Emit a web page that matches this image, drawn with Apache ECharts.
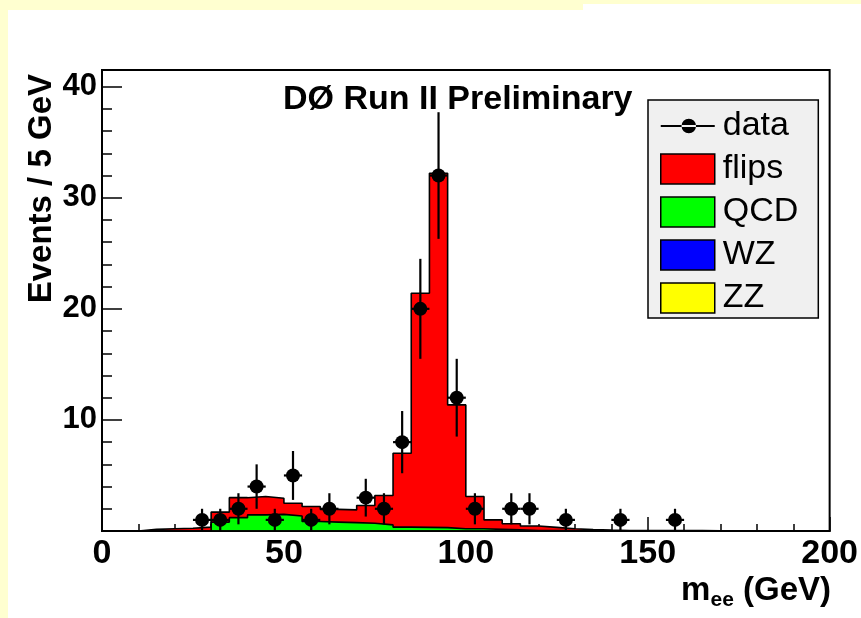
<!DOCTYPE html>
<html><head><meta charset="utf-8">
<script src="https://cdn.jsdelivr.net/npm/echarts@6/dist/echarts.min.js"></script>
<style>html,body{margin:0;padding:0;background:#FFFFD0;}#c{width:861px;height:618px;}</style>
</head><body><div id="c"></div>
<script>
// Bin lower edges (GeV), bin width 5 GeV
const binLow = [0,5,10,15,20,25,30,35,40,45,50,55,60,65,70,75,80,85,90,95,100,105,110,115,120,125,130,135,140,145,150,155,160,165,170,175,180,185,190,195];
const binWidth = 5;
// Background contributions (events / 5 GeV)
const flips = [0,0,0.15,0.2,0.25,0.35,0.9,1.8,1.65,1.45,1.15,1.35,1.15,1.15,1.6,2.65,6.65,21.07,31.9,11.15,2.9,0.85,0.55,0.4,0.28,0.17,0.1,0.08,0.05,0.05,0.04,0.03,0.03,0.02,0.02,0.02,0.01,0.01,0.01,0.01];
const qcd   = [0,0,0,0,0,0,0.8,1.2,1.45,1.5,1.35,0.85,0.8,0.75,0.7,0.55,0.35,0.33,0.3,0.2,0.2,0.15,0.1,0.05,0.05,0.03,0.02,0,0,0,0,0,0,0,0,0,0,0,0,0];
const wz    = [0,0,0,0,0,0,0,0,0,0,0,0,0,0,0,0,0,0,0,0,0,0,0,0,0,0,0,0,0,0,0,0,0,0,0,0,0,0,0,0];
const zz    = [0,0,0,0,0,0,0,0,0,0,0,0,0,0,0,0,0,0,0,0,0,0,0,0,0,0,0,0,0,0,0,0,0,0,0,0,0,0,0,0];
// Data points
const dataX   = [27.5,32.5,37.5,42.5,47.5,52.5,57.5,62.5,72.5,77.5,82.5,87.5,92.5,97.5,102.5,112.5,117.5,127.5,142.5,157.5];
const dataY   = [1,1,2,4,1,5,1,2,3,2,8,20,32,12,2,2,2,1,1,1];
const dataErr = [1,1,1.4,2,1,2.2,1,1.4,1.7,1.4,2.8,4.5,5.7,3.5,1.4,1.4,1.4,1,1,1];
// Axis ticks
const xTicks = [0,50,100,150,200];
const yTicks = [0,10,20,30,40];

const FONT = 'Liberation Sans';
// cumulative stack (ZZ bottom, WZ, QCD, flips on top)
const cZZ = zz.slice();
const cWZ = cZZ.map((v,i)=>v+wz[i]);
const cQCD = cWZ.map((v,i)=>v+qcd[i]);
const cAll = cQCD.map((v,i)=>v+flips[i]);
function steps(vals){
  const pts = binLow.map((x,i)=>[x, vals[i]]);
  pts.push([binLow[binLow.length-1]+binWidth, vals[vals.length-1]]);
  return pts;
}
function histSeries(name, vals, color){
  return {
    name, type:'line', step:'end', data: steps(vals), symbol:'none', showSymbol:false,
    xAxisIndex:0, yAxisIndex:0,
    lineStyle:{color:'#000', width:1.6},
    itemStyle:{color:color, borderColor:'#000', borderWidth:1.5},
    areaStyle:{color:color, opacity:1},
    emphasis:{disabled:true}, animation:false, clip:true
  };
}
const chart = echarts.init(document.getElementById('c'), null, {renderer:'canvas'});
chart.setOption({
  animation:false,
  backgroundColor:'#FFFFD0',
  graphic:[
    {type:'rect', z:-100, shape:{x:8, y:10, width:853, height:608}, style:{fill:'#fff'}},
    {type:'rect', z:-100, shape:{x:583, y:4, width:278, height:10}, style:{fill:'#fff'}},
    {type:'text', z:100, x:42, y:74, rotation:Math.PI/2,
     style:{text:'Events / 5 GeV', fontFamily:FONT, fontWeight:'bold', fontSize:33, fill:'#000', align:'right', verticalAlign:'middle'}},
    {type:'text', z:100, x:831, y:591,
     style:{text:'{a|m}{b|ee}{a| (GeV)}', align:'right', verticalAlign:'middle', fill:'#000',
       rich:{a:{fontFamily:FONT, fontWeight:'bold', fontSize:33, lineHeight:40, verticalAlign:'middle'},
             b:{fontFamily:FONT, fontWeight:'bold', fontSize:21, lineHeight:40, verticalAlign:'bottom'}}}}
  ],
  title:{text:'DØ Run II Preliminary', left:283, top:83, padding:0,
    textStyle:{fontFamily:FONT, fontWeight:'bold', fontSize:34, color:'#000'}},
  legend:{
    orient:'vertical', left:648, top:100, padding:[9,20,3,12], itemGap:9,
    itemWidth:54, itemHeight:30, backgroundColor:'#f0f0f0', borderColor:'#000', borderWidth:1.5,
    textStyle:{fontFamily:FONT, fontSize:34, color:'#000', padding:[0,0,0,3]},
    selectedMode:false,
    data:[
      {name:'data', icon:'path://M0,14H52V16H0Z M20,15A7,7,0,1,0,34,15A7,7,0,1,0,20,15Z', itemStyle:{color:'#000', borderWidth:0}},
      {name:'flips', icon:'rect', itemStyle:{color:'#ff0000', borderColor:'#000', borderWidth:1.5}},
      {name:'QCD', icon:'rect', itemStyle:{color:'#00ff00', borderColor:'#000', borderWidth:1.5}},
      {name:'WZ', icon:'rect', itemStyle:{color:'#0000ff', borderColor:'#000', borderWidth:1.5}},
      {name:'ZZ', icon:'rect', itemStyle:{color:'#ffff00', borderColor:'#000', borderWidth:1.5}}
    ]
  },
  grid:[
    {left:102, right:29, top:70, bottom:87, show:true, borderColor:'#000', borderWidth:2, backgroundColor:'transparent'},
    {left:102, right:29, top:70, bottom:87, show:false}
  ],
  xAxis:[
    {type:'value', gridIndex:0, min:0, max:200, interval:50,
     axisLine:{show:true, lineStyle:{color:'#000', width:2}},
     axisTick:{show:true, inside:true, length:14, lineStyle:{color:'#000', width:1.5}},
     minorTick:{show:true, splitNumber:5, length:7, lineStyle:{color:'#000', width:1.5}},
     splitLine:{show:false},
     axisLabel:{fontFamily:FONT, fontWeight:'bold', fontSize:34, color:'#000', margin:6,
       customValues: xTicks}},
    {type:'value', gridIndex:1, min:0, max:200, show:false}
  ],
  yAxis:[
    {type:'value', gridIndex:0, min:0, max:41.5, interval:10,
     axisLine:{show:true, lineStyle:{color:'#000', width:2}},
     axisTick:{show:true, inside:true, length:20, lineStyle:{color:'#000', width:1.5}, customValues: yTicks},
     splitLine:{show:false},
     axisLabel:{fontFamily:FONT, fontWeight:'bold', fontSize:31, color:'#000', margin:5,
       customValues: yTicks, formatter:function(v){ return v === 0 ? '' : String(v); }}},
    {type:'value', gridIndex:1, min:0, max:41.5, interval:2,
     axisLine:{show:false}, axisLabel:{show:false}, splitLine:{show:false},
     axisTick:{show:true, inside:true, length:10, lineStyle:{color:'#000', width:1.5}}}
  ],
  series:[
    histSeries('flips', cAll, '#ff0000'),
    histSeries('QCD', cQCD, '#00ff00'),
    histSeries('WZ', cWZ, '#0000ff'),
    histSeries('ZZ', cZZ, '#ffff00'),
    {
      name:'errors', type:'custom', xAxisIndex:0, yAxisIndex:0, z:5,
      data: dataX.map((x,i)=>[x, dataY[i], dataErr[i]]),
      renderItem:function(params, api){
        const x = api.value(0), y = api.value(1), e = api.value(2);
        const pLo = api.coord([x, y - e]), pHi = api.coord([x, y + e]);
        const pL = api.coord([x - binWidth/2, y]), pR = api.coord([x + binWidth/2, y]);
        const st = {stroke:'#000', lineWidth:2.2};
        return {type:'group', children:[
          {type:'line', shape:{x1:pLo[0], y1:pLo[1], x2:pHi[0], y2:pHi[1]}, style:st},
          {type:'line', shape:{x1:pL[0], y1:pL[1], x2:pR[0], y2:pR[1]}, style:st}
        ]};
      },
      silent:true, animation:false
    },
    {
      name:'data', type:'scatter', xAxisIndex:0, yAxisIndex:0, z:6,
      data: dataX.map((x,i)=>[x, dataY[i]]),
      symbol:'circle', symbolSize:14, itemStyle:{color:'#000', opacity:1},
      emphasis:{disabled:true}, silent:true, animation:false
    }
  ]
});
</script></body></html>
